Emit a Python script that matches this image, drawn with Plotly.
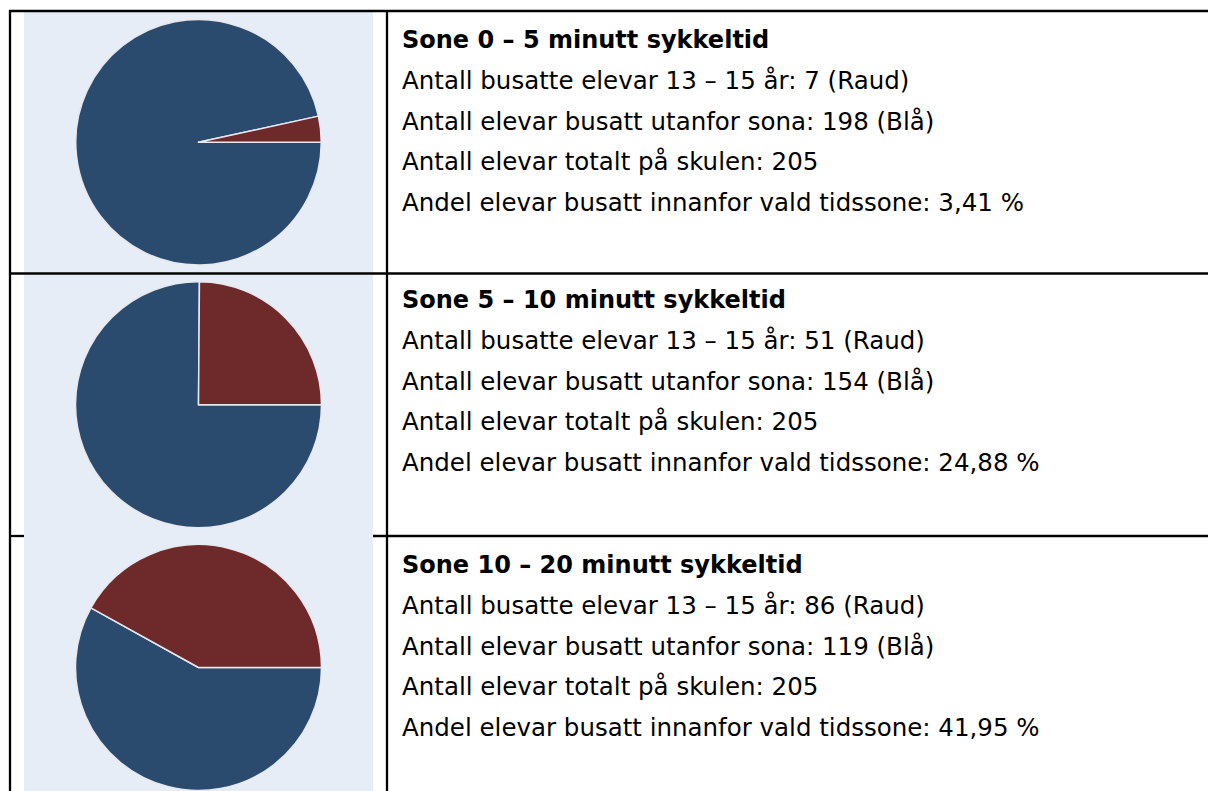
import plotly.graph_objects as go

W, H = 1208, 791

# Data
zones = ["Sone 0 – 5 minutt sykkeltid", "Sone 5 – 10 minutt sykkeltid", "Sone 10 – 20 minutt sykkeltid"]
inside = [7, 51, 86]        # Raud
outside = [198, 154, 119]   # Blå
total = [205, 205, 205]
share = ["3,41", "24,88", "41,95"]
slice_labels = ["Busatt utanfor sona", "Busatt innanfor sona"]

RED = "#6e292b"
BLUE = "#2a4b6e"
BG = "#e6edf6"

def px(x):
    return x / W

def py(y):
    return 1 - y / H

fig = go.Figure()

# pie pixel boxes (left, top, right, bottom)
pie_boxes = [(75.5, 19.5, 321.5, 265.0), (75.5, 281.5, 321.5, 528.0), (75.5, 544.0, 321.5, 791.0)]

for i in range(3):
    l, t, r, b = pie_boxes[i]
    fig.add_trace(go.Pie(
        labels=slice_labels,
        values=[outside[i], inside[i]],
        marker=dict(colors=[BLUE, RED], line=dict(color="#e8e8ee", width=1.5)),
        sort=False,
        direction="counterclockwise",
        rotation=90,
        textinfo="none",
        hoverinfo="label+value",
        showlegend=False,
        domain=dict(x=[px(l), px(r)], y=[py(b), py(t)]),
    ))

shapes = []
# backgrounds
shapes.append(dict(type="rect", xref="paper", yref="paper", x0=px(24), x1=px(373), y0=py(272.5), y1=py(11),
                   fillcolor=BG, line=dict(width=0), layer="below"))
shapes.append(dict(type="rect", xref="paper", yref="paper", x0=px(24), x1=px(373), y0=py(791), y1=py(274.5),
                   fillcolor=BG, line=dict(width=0), layer="below"))

def hline(y, x0, x1):
    shapes.append(dict(type="line", xref="paper", yref="paper", x0=px(x0), x1=px(x1), y0=py(y), y1=py(y),
                       line=dict(color="black", width=2.3), layer="above"))

def vline(x, y0, y1):
    shapes.append(dict(type="line", xref="paper", yref="paper", x0=px(x), x1=px(x), y0=py(y0), y1=py(y1),
                       line=dict(color="black", width=2.3), layer="above"))

hline(11, 9, 1208)
hline(273.5, 9, 1208)
hline(536, 9, 24)
hline(536, 373, 1208)
vline(10, 10, 791)
vline(387, 10, 791)

annotations = []
row_tops = [40, 300, 565]
step = 40.6
for i in range(3):
    lines = [
        (zones[i], True),
        (f"Antall busatte elevar 13 – 15 år: {inside[i]} (Raud)", False),
        (f"Antall elevar busatt utanfor sona: {outside[i]} (Blå)", False),
        (f"Antall elevar totalt på skulen: {total[i]}", False),
        (f"Andel elevar busatt innanfor vald tidssone: {share[i]} %", False),
    ]
    for j, (txt, bold) in enumerate(lines):
        y = row_tops[i] + j * step
        annotations.append(dict(
            text=f"<b>{txt}</b>" if bold else txt,
            xref="paper", yref="paper", x=px(400), y=py(y),
            xanchor="left", yanchor="middle", showarrow=False,
            font=dict(family="DejaVu Sans", size=24.5 if not bold else 24, color="black"),
        ))

fig.update_layout(
    width=W, height=H,
    margin=dict(l=0, r=0, t=0, b=0),
    paper_bgcolor="white",
    shapes=shapes,
    annotations=annotations,
)

fig.write_html("out.html", config={"displayModeBar": False},
               post_script="document.body.style.margin='0px';document.body.style.overflow='hidden';")
